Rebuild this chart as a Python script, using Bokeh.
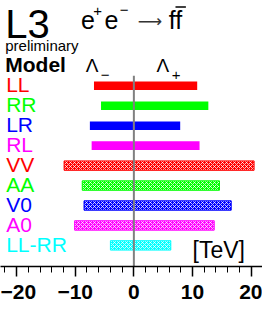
from bokeh.plotting import figure
from bokeh.models import Range1d, ColumnDataSource, SingleIntervalTicker
from bokeh.core.properties import value
from bokeh.embed import file_html
from bokeh.resources import INLINE

# ---- data (TeV) ----
models = ["LL", "RR", "LR", "RL", "VV", "AA", "V0", "A0", "LL-RR"]
lambda_minus = [6.8, 5.6, 7.5, 7.2, 11.9, 8.8, 8.5, 10.1, 4.0]
lambda_plus = [10.8, 12.7, 7.9, 11.2, 20.5, 14.6, 16.6, 13.7, 6.3]
colors = ["#ff0000", "#00ff00", "#0000ff", "#ff00ff", "#ff0000",
          "#00ff00", "#0000ff", "#ff00ff", "#00ffff"]
hatched = [False, False, False, False, True, True, True, True, True]

FONT = value("Liberation Sans")

def X(r):
    return (r - 142) / 6.2

def Y(r):
    return (r - 89) / 21.75

p = figure(frame_width=262, frame_height=266, output_backend="svg",
           toolbar_location=None,
           x_range=Range1d(X(1), X(278)), y_range=Range1d(Y(286), Y(-4)),
           min_border=0)
p.outline_line_color = None
p.grid.visible = False
p.yaxis.visible = False
p.background_fill_color = "white"

ax = p.xaxis[0]
ax.ticker = SingleIntervalTicker(interval=10, num_minor_ticks=5)
ax.major_tick_in = 0
ax.major_tick_out = 10
ax.minor_tick_in = 0
ax.minor_tick_out = 6
ax.axis_line_width = 1.5
ax.major_tick_line_width = 1.5
ax.minor_tick_line_width = 1
ax.axis_line_color = "black"
ax.major_label_standoff = 8
ax.major_label_text_font = "Liberation Sans"
ax.major_label_text_font_size = "21px"
ax.major_label_text_font_style = "bold"
ax.major_label_text_color = "black"

rows = list(range(len(models)))
left = [-v for v in lambda_minus]
src_solid = ColumnDataSource(dict(
    y=[r for r, h in zip(rows, hatched) if not h],
    left=[l for l, h in zip(left, hatched) if not h],
    right=[r for r, h in zip(lambda_plus, hatched) if not h],
    color=[c for c, h in zip(colors, hatched) if not h]))
src_hatch = ColumnDataSource(dict(
    y=[r for r, h in zip(rows, hatched) if h],
    left=[l for l, h in zip(left, hatched) if h],
    right=[r for r, h in zip(lambda_plus, hatched) if h],
    color=[c for c, h in zip(colors, hatched) if h]))

p.hbar(y="y", left="left", right="right", height=0.43, source=src_solid,
       fill_color="color", line_color=None)
p.hbar(y="y", left="left", right="right", height=0.47, source=src_hatch,
       fill_color="color", line_color="color", line_width=1,
       hatch_pattern="diagonal_cross", hatch_color="white",
       hatch_scale=4, hatch_weight=1, hatch_alpha=0.75)

# zero line
p.segment(x0=[0], y0=[Y(78)], x1=[0], y1=[Y(286)], line_color="#808080",
          line_width=2)

# model labels
p.text(x=[X(7)] * len(models), y=[r - 1.5 / 21.75 for r in rows], text=models,
       text_color=colors, text_font=FONT, text_font_size="21px",
       text_baseline="middle", text_align="left")

def label(x, y, t, size, style="normal", color="black", align="left",
          font=FONT):
    p.text(x=[x], y=[y], text=[t], text_font=font, text_font_size=size,
           text_font_style=style, text_color=color, text_align=align,
           text_baseline="middle")

label(X(6), Y(22), "L3", "40px")
label(X(6), Y(45), "preliminary", "15px")
label(X(6), Y(66), "Model", "21px", style="bold")
label(X(86), Y(17), "e", "25px")
label(X(99), Y(7), "+", "15px")
label(X(111), Y(17), "e", "25px")
label(X(127), Y(6.5), "\u2212", "15px")
label(X(146), Y(18), "\u27f6", "17px", color="#333333",
      font=value("DejaVu Sans"))
label(X(179), Y(17), "ff", "25px")
p.segment(x0=[X(186)], y0=[Y(3)], x1=[X(197)], y1=[Y(3)],
          line_color="black", line_width=1.5)
label(X(91), Y(67), "\u039b", "19px")
label(X(107), Y(77), "\u2212", "15px")
label(X(166), Y(67), "\u039b", "19px")
label(X(182), Y(77), "+", "15px")
label(X(204), Y(268), "[TeV]", "23px")

open("out.html", "w").write(file_html(p, INLINE))
